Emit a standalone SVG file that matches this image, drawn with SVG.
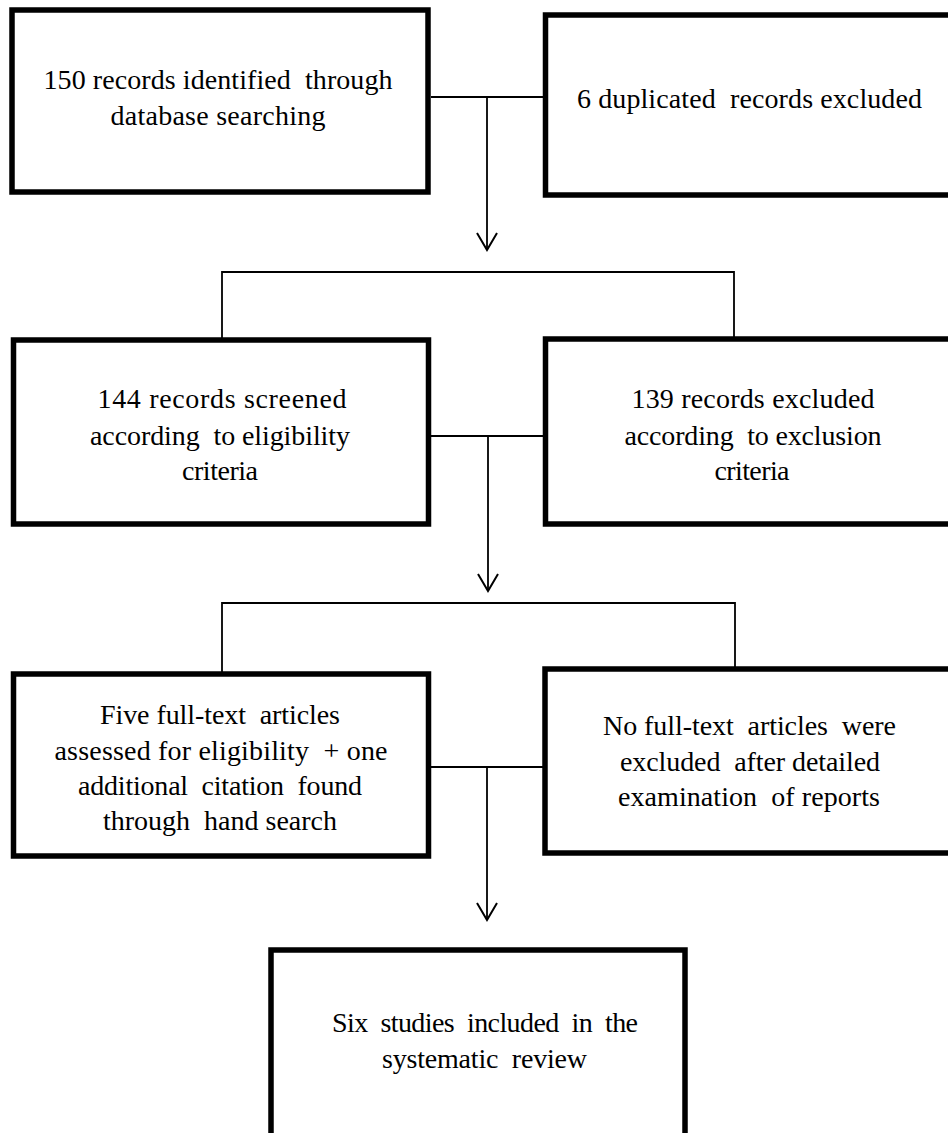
<svg xmlns="http://www.w3.org/2000/svg" width="948" height="1133" viewBox="0 0 948 1133">
<style>
.box{fill:#fff;stroke:#000;stroke-width:5.5}
.con{fill:none;stroke:#000;stroke-width:1.8}
.t{font-family:"Liberation Serif","Times New Roman",serif;font-size:28px;fill:#000;text-anchor:middle;white-space:pre}
</style>
<defs>
<marker id="arr" viewBox="0 0 20 24" refX="18" refY="12" markerWidth="20" markerHeight="24" markerUnits="userSpaceOnUse" orient="auto">
<path d="M1,2 L18,12 L1,22" fill="none" stroke="#000" stroke-width="2"/>
</marker>
</defs>
<rect width="948" height="1133" fill="#fff"/>
<g id="connectors">
<line class="con" x1="431" y1="97" x2="543" y2="97"/>
<line class="con" x1="487" y1="97" x2="487" y2="250" marker-end="url(#arr)"/>
<polyline class="con" points="222,340 222,272 734,272 734,339"/>
<line class="con" x1="431" y1="436" x2="543" y2="436"/>
<line class="con" x1="488" y1="436" x2="488" y2="591" marker-end="url(#arr)"/>
<polyline class="con" points="222,674 222,603 735,603 735,669"/>
<line class="con" x1="431" y1="767" x2="543" y2="767"/>
<line class="con" x1="487" y1="767" x2="487" y2="920" marker-end="url(#arr)"/>
</g>
<g id="n1">
<rect class="box" x="12" y="10" width="416" height="182"/>
<text class="t" xml:space="preserve" x="218" y="89" textLength="349" lengthAdjust="spacing">150 records identified  through</text>
<text class="t" x="218" y="125" textLength="215" lengthAdjust="spacing">database searching</text>
</g>
<g id="n2">
<rect class="box" x="545.5" y="15" width="420" height="180"/>
<text class="t" xml:space="preserve" x="749.5" y="108" textLength="345" lengthAdjust="spacing">6 duplicated  records excluded</text>
</g>
<g id="n3">
<rect class="box" x="13.5" y="340" width="415" height="184"/>
<text class="t" x="222" y="408" textLength="249" lengthAdjust="spacing">144 records screened</text>
<text class="t" xml:space="preserve" x="220" y="445" textLength="260" lengthAdjust="spacing">according  to eligibility</text>
<text class="t" x="220" y="480" textLength="76" lengthAdjust="spacing">criteria</text>
</g>
<g id="n4">
<rect class="box" x="545.5" y="339" width="420" height="185"/>
<text class="t" x="753" y="408" textLength="243" lengthAdjust="spacing">139 records excluded</text>
<text class="t" xml:space="preserve" x="753" y="445" textLength="257" lengthAdjust="spacing">according  to exclusion</text>
<text class="t" x="752" y="480" textLength="75" lengthAdjust="spacing">criteria</text>
</g>
<g id="n5">
<rect class="box" x="13.5" y="674" width="415" height="182"/>
<text class="t" xml:space="preserve" x="220" y="724" textLength="240" lengthAdjust="spacing">Five full-text  articles</text>
<text class="t" xml:space="preserve" x="221" y="760" textLength="333" lengthAdjust="spacing">assessed for eligibility  + one</text>
<text class="t" xml:space="preserve" x="220" y="795" textLength="284" lengthAdjust="spacing">additional  citation  found</text>
<text class="t" xml:space="preserve" x="220" y="830" textLength="234" lengthAdjust="spacing">through  hand search</text>
</g>
<g id="n6">
<rect class="box" x="545" y="669" width="420" height="184"/>
<text class="t" xml:space="preserve" x="749.5" y="735" textLength="293" lengthAdjust="spacing">No full-text  articles  were</text>
<text class="t" xml:space="preserve" x="750" y="771" textLength="260" lengthAdjust="spacing">excluded  after detailed</text>
<text class="t" xml:space="preserve" x="749" y="806" textLength="262" lengthAdjust="spacing">examination  of reports</text>
</g>
<g id="n7">
<rect class="box" x="271" y="950" width="414" height="200"/>
<text class="t" xml:space="preserve" x="485" y="1032" textLength="306" lengthAdjust="spacing">Six  studies  included  in  the</text>
<text class="t" xml:space="preserve" x="484.5" y="1068" textLength="205" lengthAdjust="spacing">systematic  review</text>
</g>
</svg>
